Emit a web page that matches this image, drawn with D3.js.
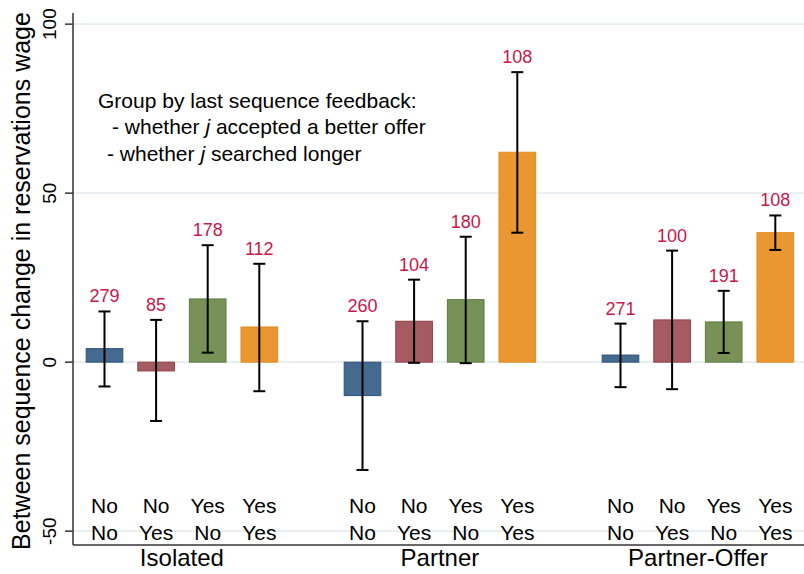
<!DOCTYPE html>
<html><head><meta charset="utf-8">
<script src="https://cdn.jsdelivr.net/npm/d3@7/dist/d3.min.js"></script>
<style>body{margin:0;background:#fff}svg{display:block}text{font-family:"Liberation Sans",Arial,sans-serif}</style>
</head><body><svg id="c" width="804" height="574"></svg>
<script>
const groups = ["Isolated","Partner","Partner-Offer"];
const accepted = ["No","No","Yes","Yes"];
const searched = ["No","Yes","No","Yes"];
const means = [[4.0,-2.6,18.7,10.4],[-9.9,12.1,18.5,62.1],[2.1,12.5,11.9,38.3]];
const ciLow = [[-7.2,-17.4,2.8,-8.6],[-31.9,-0.2,-0.3,38.3],[-7.4,-8.0,2.7,33.2]];
const ciHigh = [[15.0,12.5,34.6,29.1],[12.1,24.4,37.1,85.8],[11.4,33.0,21.1,43.4]];
const counts = [[279,85,178,112],[260,104,180,108],[271,100,191,108]];
const yTicks = [-50,0,50,100];
const fills = ["#456a8f","#a65b62","#779157","#ea9731"];
const strokes = ["#2e5379","#913f48","#5f7b3d","#e38a20"];

const svg = d3.select("#c");
const L = 73, R = 804, T = 13, B = 545;
const y = d3.scaleLinear().domain([-54.1, 103.3]).range([B, T]);
const x = d3.scaleBand().domain(d3.range(14)).range([78.7, 801.1]).paddingInner(0.29).paddingOuter(0.145);

// grid
svg.append("g").selectAll("line").data(yTicks).join("line")
  .attr("x1", L).attr("x2", R).attr("y1", d=>y(d)).attr("y2", d=>y(d))
  .attr("stroke", "#e6eef0").attr("stroke-width", 1.6);

const data = [];
groups.forEach((g,gi)=>accepted.forEach((a,i)=>data.push({g,gi,i,slot:gi*5+i,m:means[gi][i],lo:ciLow[gi][i],hi:ciHigh[gi][i],n:counts[gi][i]})));

svg.append("g").selectAll("rect").data(data).join("rect")
  .attr("x", d=>x(d.slot)).attr("width", x.bandwidth())
  .attr("y", d=>y(Math.max(0,d.m))).attr("height", d=>Math.abs(y(d.m)-y(0)))
  .attr("fill", d=>fills[d.i]).attr("stroke", d=>strokes[d.i]).attr("stroke-width", 1);

const eb = svg.append("g").attr("stroke","#000").attr("stroke-width",2);
data.forEach(d=>{
  const cx = x(d.slot)+x.bandwidth()/2;
  eb.append("line").attr("x1",cx).attr("x2",cx).attr("y1",y(d.lo)).attr("y2",y(d.hi));
  eb.append("line").attr("x1",cx-6).attr("x2",cx+6).attr("y1",y(d.lo)).attr("y2",y(d.lo));
  eb.append("line").attr("x1",cx-6).attr("x2",cx+6).attr("y1",y(d.hi)).attr("y2",y(d.hi));
});

svg.append("g").selectAll("text").data(data).join("text")
  .attr("x", d=>x(d.slot)+x.bandwidth()/2).attr("y", d=>y(d.hi)-9)
  .attr("text-anchor","middle").attr("font-size",18).attr("fill","#c8174a").text(d=>d.n);

// x category labels
const xl = svg.append("g").attr("font-size",21).attr("fill","#000").attr("text-anchor","middle");
data.forEach(d=>{
  const cx = x(d.slot)+x.bandwidth()/2;
  xl.append("text").attr("x",cx).attr("y",513).text(accepted[d.i]);
  xl.append("text").attr("x",cx).attr("y",540).text(searched[d.i]);
});
svg.append("g").selectAll("text").data(groups).join("text")
  .attr("x",(d,gi)=>(x(gi*5)+x(gi*5+3)+x.bandwidth())/2).attr("y",566)
  .attr("text-anchor","middle").attr("font-size",24).text(d=>d);

// axes
svg.append("line").attr("x1",L).attr("x2",L).attr("y1",T).attr("y2",B).attr("stroke","#333").attr("stroke-width",1.5);
svg.append("line").attr("x1",L).attr("x2",R).attr("y1",B).attr("y2",B).attr("stroke","#333").attr("stroke-width",1.5);
const yt = svg.append("g");
yTicks.forEach(t=>{
  yt.append("line").attr("x1",L-8).attr("x2",L).attr("y1",y(t)).attr("y2",y(t)).attr("stroke","#333").attr("stroke-width",1.5);
  yt.append("text").attr("transform",`translate(55.5,${y(t)}) rotate(-90)`).attr("text-anchor","middle")
    .attr("font-size",19).text(t);
});
svg.append("text").attr("transform",`translate(30,${(T+B)/2+2}) rotate(-90)`).attr("text-anchor","middle")
  .attr("font-size",25).text("Between sequence change in reservations wage");

// annotation
const ann = svg.append("g").attr("font-size",21).attr("fill","#000");
ann.append("text").attr("x",98).attr("y",108).text("Group by last sequence feedback:");
const l2 = ann.append("text").attr("x",112).attr("y",134);
l2.append("tspan").text("- whether ");
l2.append("tspan").attr("font-style","italic").text("j");
l2.append("tspan").text(" accepted a better offer");
const l3 = ann.append("text").attr("x",107).attr("y",160.5);
l3.append("tspan").text("- whether ");
l3.append("tspan").attr("font-style","italic").text("j");
l3.append("tspan").text(" searched longer");
</script></body></html>
